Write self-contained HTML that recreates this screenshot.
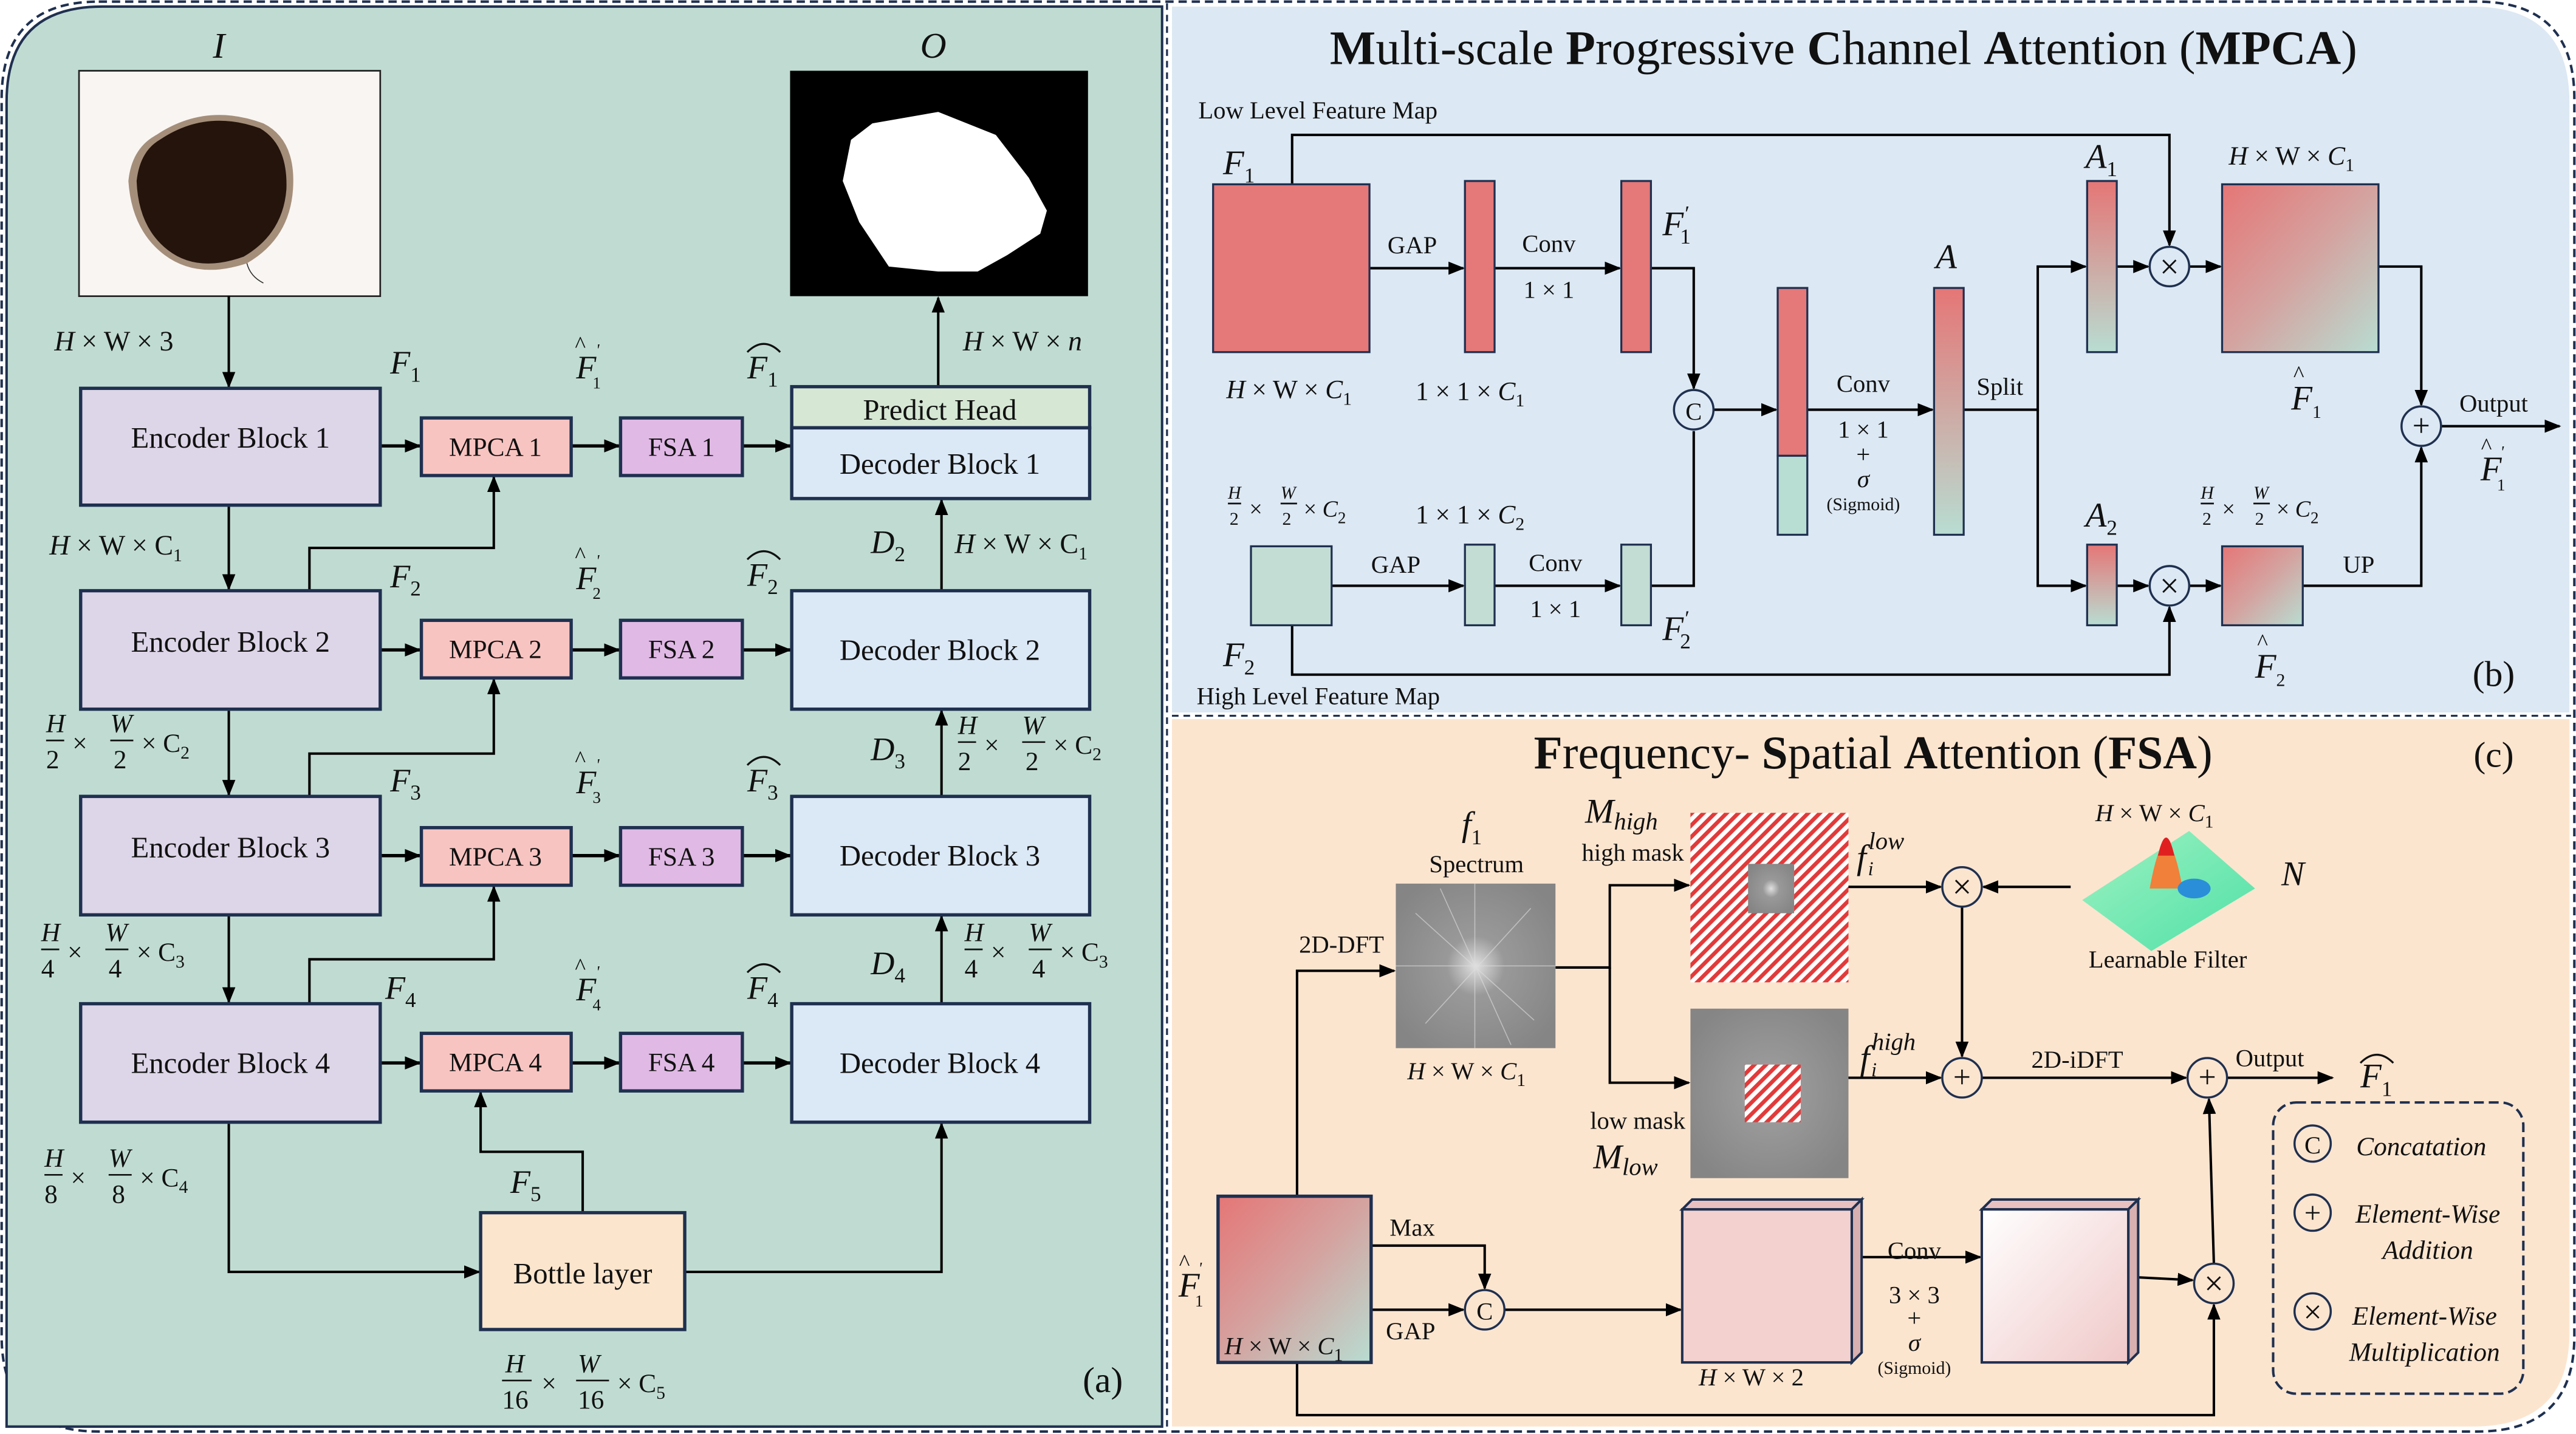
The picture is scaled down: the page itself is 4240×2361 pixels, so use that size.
<!DOCTYPE html>
<html><head><meta charset="utf-8"><style>
html,body{margin:0;padding:0;background:#fff;}
svg{display:block;}
text{font-family:"Liberation Serif",serif;fill:#111;}
.i{font-style:italic;}
</style></head><body>
<svg width="4240" height="2361" viewBox="0 0 1565 871.5" preserveAspectRatio="none" xmlns="http://www.w3.org/2000/svg">
<defs>
<marker id="ar" markerWidth="10" markerHeight="10" refX="9" refY="5" orient="auto" markerUnits="userSpaceOnUse"><path d="M0,1 L10,5 L0,9 z" fill="#000"/></marker>
<linearGradient id="rg" x1="0" y1="0" x2="1" y2="1"><stop offset="0" stop-color="#e57676"/><stop offset="0.5" stop-color="#d4a3a0"/><stop offset="1" stop-color="#b8ddd2"/></linearGradient>
<linearGradient id="vg" x1="0" y1="0" x2="0" y2="1"><stop offset="0" stop-color="#e57676"/><stop offset="1" stop-color="#b8ddd2"/></linearGradient>
<linearGradient id="pg" x1="0" y1="0" x2="1" y2="1"><stop offset="0" stop-color="#ffffff"/><stop offset="1" stop-color="#f0c8c8"/></linearGradient>
<radialGradient id="sp" cx="0.5" cy="0.5" r="0.6"><stop offset="0" stop-color="#e0e0e0"/><stop offset="0.3" stop-color="#999"/><stop offset="1" stop-color="#858585"/></radialGradient>
<pattern id="hat" width="5" height="5" patternUnits="userSpaceOnUse" patternTransform="rotate(45)"><rect width="5" height="5" fill="#fff"/><rect width="2.4" height="5" fill="#e23a3a"/></pattern>
<radialGradient id="les" cx="0.5" cy="0.5" r="0.5"><stop offset="0" stop-color="#1e100a"/><stop offset="0.8" stop-color="#2a170e"/><stop offset="0.93" stop-color="#6a4a2a"/><stop offset="1" stop-color="#f7f2ef" stop-opacity="0"/></radialGradient>
<linearGradient id="lf" x1="0" y1="0" x2="1" y2="1"><stop offset="0" stop-color="#9ef2c0"/><stop offset="1" stop-color="#4fe0a8"/></linearGradient>
</defs>
<rect width="1565" height="871.5" fill="#fff"/>
<path d="M60,1 L1505,1 Q1564,1 1564,60 L1564,812 Q1564,870 1505,870 L60,870 Q1,870 1,812 L1,60 Q1,1 60,1 Z" fill="none" stroke="#1f3050" stroke-width="1.5" stroke-dasharray="5,3"/>
<path d="M62,4 L706,4 L706,867 L4,867 L4,62 Q4,4 62,4 Z" fill="#c0dcd2" stroke="#1f3050" stroke-width="1.5"/>
<line x1="709" y1="2" x2="709" y2="869" stroke="#1f3050" stroke-width="1.2" stroke-dasharray="4,3"/>
<path d="M712,4 L1502,4 Q1561,4 1561,62 L1561,433 L712,433 Z" fill="#dce8f3"/>
<line x1="712" y1="435" x2="1562" y2="435" stroke="#1f3050" stroke-width="1.2" stroke-dasharray="4,3"/>
<path d="M712,437 L1561,437 L1561,810 Q1561,867 1502,867 L712,867 Z" fill="#fce5cf"/>

<!-- ===== Panel (a) ===== -->
<text x="133" y="35" font-size="22" class="i" text-anchor="middle">I</text>
<text x="567" y="35" font-size="22" class="i" text-anchor="middle">O</text>
<rect x="48" y="43" width="183" height="137" fill="#f9f5f2" stroke="#222" stroke-width="1"/>
<path d="M95,82 Q125,62 160,75 Q180,85 178,115 Q176,145 150,160 Q120,170 100,155 Q80,140 78,110 Q80,90 95,82 Z" fill="#6a4a2a" opacity="0.6" transform="translate(0,0)"/>
<path d="M97,85 Q125,66 158,78 Q175,88 174,115 Q172,142 148,156 Q120,166 102,152 Q84,138 83,110 Q85,92 97,85 Z" fill="#24140c"/>
<path d="M150,160 Q152,168 160,172" stroke="#333" stroke-width="0.6" fill="none"/>
<rect x="480" y="43" width="181" height="137" fill="#000"/>
<path d="M530,75 L570,68 L605,82 L625,108 L636,128 L632,142 L612,155 L594,165 L570,165 L540,162 L522,135 L512,110 L517,85 Z" fill="#fff"/>

<g stroke="#000" stroke-width="1.5" fill="none">
<line x1="139" y1="180" x2="139" y2="235" marker-end="url(#ar)"/>
<line x1="139" y1="308" x2="139" y2="358" marker-end="url(#ar)"/>
<line x1="139" y1="432" x2="139" y2="483" marker-end="url(#ar)"/>
<line x1="139" y1="557" x2="139" y2="609" marker-end="url(#ar)"/>
<polyline points="139,683 139,773 291,773" marker-end="url(#ar)"/>
<polyline points="416,773 572,773 572,683" marker-end="url(#ar)"/>
<polyline points="188,359 188,333 300,333 300,290" marker-end="url(#ar)"/>
<polyline points="188,484 188,458 300,458 300,413" marker-end="url(#ar)"/>
<polyline points="188,610 188,583 300,583 300,539" marker-end="url(#ar)"/>
<polyline points="354,737 354,700 292,700 292,664" marker-end="url(#ar)"/>
<line x1="572" y1="610" x2="572" y2="557" marker-end="url(#ar)"/>
<line x1="572" y1="484" x2="572" y2="432" marker-end="url(#ar)"/>
<line x1="572" y1="359" x2="572" y2="304" marker-end="url(#ar)"/>
<line x1="570" y1="235" x2="570" y2="181" marker-end="url(#ar)"/>
</g>
<g stroke="#000" stroke-width="2" fill="none">
<line x1="231" y1="271" x2="255" y2="271" marker-end="url(#ar)"/><line x1="347" y1="271" x2="376" y2="271" marker-end="url(#ar)"/><line x1="451" y1="271" x2="480" y2="271" marker-end="url(#ar)"/>
<line x1="231" y1="395" x2="255" y2="395" marker-end="url(#ar)"/><line x1="347" y1="395" x2="376" y2="395" marker-end="url(#ar)"/><line x1="451" y1="395" x2="480" y2="395" marker-end="url(#ar)"/>
<line x1="231" y1="520" x2="255" y2="520" marker-end="url(#ar)"/><line x1="347" y1="520" x2="376" y2="520" marker-end="url(#ar)"/><line x1="451" y1="520" x2="480" y2="520" marker-end="url(#ar)"/>
<line x1="231" y1="646" x2="255" y2="646" marker-end="url(#ar)"/><line x1="347" y1="646" x2="376" y2="646" marker-end="url(#ar)"/><line x1="451" y1="646" x2="480" y2="646" marker-end="url(#ar)"/>
</g>
<g stroke="#1f3050" stroke-width="2">
<rect x="49" y="236" width="182" height="71" fill="#ddd5e8"/>
<rect x="49" y="359" width="182" height="72" fill="#ddd5e8"/>
<rect x="49" y="484" width="182" height="72" fill="#ddd5e8"/>
<rect x="49" y="610" width="182" height="72" fill="#ddd5e8"/>
<rect x="256" y="254" width="91" height="35" fill="#f8c4c1"/>
<rect x="256" y="377" width="91" height="35" fill="#f8c4c1"/>
<rect x="256" y="503" width="91" height="35" fill="#f8c4c1"/>
<rect x="256" y="628" width="91" height="35" fill="#f8c4c1"/>
<rect x="377" y="254" width="74" height="35" fill="#e0b9e5"/>
<rect x="377" y="377" width="74" height="35" fill="#e0b9e5"/>
<rect x="377" y="503" width="74" height="35" fill="#e0b9e5"/>
<rect x="377" y="628" width="74" height="35" fill="#e0b9e5"/>
<rect x="481" y="235" width="181" height="25" fill="#d6e8d4"/>
<rect x="481" y="260" width="181" height="43" fill="#dbe8f6"/>
<rect x="481" y="359" width="181" height="72" fill="#dbe8f6"/>
<rect x="481" y="484" width="181" height="72" fill="#dbe8f6"/>
<rect x="481" y="610" width="181" height="72" fill="#dbe8f6"/>
<rect x="292" y="737" width="124" height="71" fill="#fbe5cc"/>
</g>
<g font-size="18" text-anchor="middle">
<text x="140" y="272">Encoder  Block 1</text><text x="140" y="396">Encoder  Block 2</text><text x="140" y="521">Encoder  Block 3</text><text x="140" y="652">Encoder  Block 4</text>
<text x="301" y="277" font-size="16">MPCA 1</text><text x="301" y="400" font-size="16">MPCA 2</text><text x="301" y="526" font-size="16">MPCA 3</text><text x="301" y="651" font-size="16">MPCA 4</text>
<text x="414" y="277" font-size="16">FSA 1</text><text x="414" y="400" font-size="16">FSA 2</text><text x="414" y="526" font-size="16">FSA 3</text><text x="414" y="651" font-size="16">FSA 4</text>
<text x="571" y="255">Predict Head</text>
<text x="571" y="288">Decoder  Block 1</text><text x="571" y="401">Decoder  Block 2</text><text x="571" y="526">Decoder  Block 3</text><text x="571" y="652">Decoder  Block 4</text>
<text x="354" y="780">Bottle layer</text>
</g>
<g font-size="17">
<text x="33" y="213"><tspan class="i">H</tspan> × W × 3</text>
<text x="585" y="213"><tspan class="i">H</tspan> × W × <tspan class="i">n</tspan></text>
<text x="30" y="337"><tspan class="i">H</tspan> × W × C<tspan font-size="11" dy="4">1</tspan></text>
<text x="580" y="336"><tspan class="i">H</tspan> × W × C<tspan font-size="11" dy="4">1</tspan></text>
<text x="529" y="336" class="i" font-size="20">D<tspan font-size="13" dy="5" font-style="normal">2</tspan></text>
<text x="529" y="462" class="i" font-size="20">D<tspan font-size="13" dy="5" font-style="normal">3</tspan></text>
<text x="529" y="592" class="i" font-size="20">D<tspan font-size="13" dy="5" font-style="normal">4</tspan></text>
<text x="237" y="227" class="i" font-size="20">F<tspan font-size="13" dy="5" font-style="normal">1</tspan></text>
<text x="237" y="357" class="i" font-size="20">F<tspan font-size="13" dy="5" font-style="normal">2</tspan></text>
<text x="237" y="481" class="i" font-size="20">F<tspan font-size="13" dy="5" font-style="normal">3</tspan></text>
<text x="234" y="607" class="i" font-size="20">F<tspan font-size="13" dy="5" font-style="normal">4</tspan></text>
<text x="310" y="725" class="i" font-size="20">F<tspan font-size="13" dy="5" font-style="normal">5</tspan></text>
</g>
<g font-size="20" class="i">
<text x="350" y="230">F</text><text x="349" y="214" font-size="14">^</text><text x="362" y="216" font-size="10">'</text><text x="360" y="236" font-size="10" font-style="normal">1</text>
<text x="350" y="358">F</text><text x="349" y="342" font-size="14">^</text><text x="362" y="344" font-size="10">'</text><text x="360" y="364" font-size="10" font-style="normal">2</text>
<text x="350" y="482">F</text><text x="349" y="466" font-size="14">^</text><text x="362" y="468" font-size="10">'</text><text x="360" y="488" font-size="10" font-style="normal">3</text>
<text x="350" y="608">F</text><text x="349" y="592" font-size="14">^</text><text x="362" y="594" font-size="10">'</text><text x="360" y="614" font-size="10" font-style="normal">4</text>
<text x="454" y="230">F<tspan font-size="13" dy="5" font-style="normal">1</tspan></text>
<text x="454" y="356">F<tspan font-size="13" dy="5" font-style="normal">2</tspan></text>
<text x="454" y="481">F<tspan font-size="13" dy="5" font-style="normal">3</tspan></text>
<text x="454" y="607">F<tspan font-size="13" dy="5" font-style="normal">4</tspan></text>
</g>
<g stroke="#111" stroke-width="1.2" fill="none">
<path d="M454,214 Q464,204 474,214"/><path d="M454,340 Q464,330 474,340"/><path d="M454,465 Q464,455 474,465"/><path d="M454,591 Q464,581 474,591"/>
</g>
<g font-size="16">
<g transform="translate(28,445)"><text x="0" y="0" class="i">H</text><line x1="0" y1="5" x2="11" y2="5" stroke="#111"/><text x="0" y="22">2</text><text x="16" y="12">×</text><text x="39" y="0" class="i">W</text><line x1="39" y1="5" x2="53" y2="5" stroke="#111"/><text x="41" y="22">2</text><text x="58" y="12">× C<tspan font-size="11" dy="4">2</tspan></text></g>
<g transform="translate(582,446)"><text x="0" y="0" class="i">H</text><line x1="0" y1="5" x2="11" y2="5" stroke="#111"/><text x="0" y="22">2</text><text x="16" y="12">×</text><text x="39" y="0" class="i">W</text><line x1="39" y1="5" x2="53" y2="5" stroke="#111"/><text x="41" y="22">2</text><text x="58" y="12">× C<tspan font-size="11" dy="4">2</tspan></text></g>
<g transform="translate(25,572)"><text x="0" y="0" class="i">H</text><line x1="0" y1="5" x2="11" y2="5" stroke="#111"/><text x="0" y="22">4</text><text x="16" y="12">×</text><text x="39" y="0" class="i">W</text><line x1="39" y1="5" x2="53" y2="5" stroke="#111"/><text x="41" y="22">4</text><text x="58" y="12">× C<tspan font-size="11" dy="4">3</tspan></text></g>
<g transform="translate(586,572)"><text x="0" y="0" class="i">H</text><line x1="0" y1="5" x2="11" y2="5" stroke="#111"/><text x="0" y="22">4</text><text x="16" y="12">×</text><text x="39" y="0" class="i">W</text><line x1="39" y1="5" x2="53" y2="5" stroke="#111"/><text x="41" y="22">4</text><text x="58" y="12">× C<tspan font-size="11" dy="4">3</tspan></text></g>
<g transform="translate(27,709)"><text x="0" y="0" class="i">H</text><line x1="0" y1="5" x2="11" y2="5" stroke="#111"/><text x="0" y="22">8</text><text x="16" y="12">×</text><text x="39" y="0" class="i">W</text><line x1="39" y1="5" x2="53" y2="5" stroke="#111"/><text x="41" y="22">8</text><text x="58" y="12">× C<tspan font-size="11" dy="4">4</tspan></text></g>
<g transform="translate(305,834)"><text x="2" y="0" class="i">H</text><line x1="0" y1="5" x2="18" y2="5" stroke="#111"/><text x="0" y="22">16</text><text x="24" y="12">×</text><text x="46" y="0" class="i">W</text><line x1="45" y1="5" x2="65" y2="5" stroke="#111"/><text x="46" y="22">16</text><text x="70" y="12">× C<tspan font-size="11" dy="4">5</tspan></text></g>
</g>
<text x="670" y="846" font-size="22" text-anchor="middle">(a)</text>

<!-- ===== Panel (b) MPCA ===== -->
<text x="1120" y="39" font-size="29.5" text-anchor="middle"><tspan font-weight="bold">M</tspan>ulti-scale <tspan font-weight="bold">P</tspan>rogressive <tspan font-weight="bold">C</tspan>hannel <tspan font-weight="bold">A</tspan>ttention (<tspan font-weight="bold">MPCA</tspan>)</text>
<text x="728" y="72" font-size="15">Low Level Feature Map</text>
<text x="727" y="428" font-size="15">High Level Feature Map</text>
<g stroke="#000" stroke-width="1.5" fill="none">
<line x1="832" y1="163" x2="889" y2="163" marker-end="url(#ar)"/>
<line x1="908" y1="163" x2="984" y2="163" marker-end="url(#ar)"/>
<polyline points="1003,163 1029,163 1029,236" marker-end="url(#ar)"/>
<polyline points="1003,356 1029,356 1029,262"/>
<line x1="1041" y1="249" x2="1079" y2="249" marker-end="url(#ar)"/>
<line x1="1098" y1="249" x2="1174" y2="249" marker-end="url(#ar)"/>
<polyline points="1193,249 1238,249 1238,162 1267,162" marker-end="url(#ar)"/>
<polyline points="1238,249 1238,356 1267,356" marker-end="url(#ar)"/>
<line x1="1286" y1="162" x2="1305" y2="162" marker-end="url(#ar)"/>
<line x1="1286" y1="356" x2="1305" y2="356" marker-end="url(#ar)"/>
<polyline points="785,112 785,82 1318,82 1318,149" marker-end="url(#ar)"/>
<polyline points="785,380 785,410 1318,410 1318,369" marker-end="url(#ar)"/>
<line x1="1330" y1="162" x2="1349" y2="162" marker-end="url(#ar)"/>
<line x1="1330" y1="356" x2="1349" y2="356" marker-end="url(#ar)"/>
<line x1="809" y1="356" x2="889" y2="356" marker-end="url(#ar)"/>
<line x1="908" y1="356" x2="984" y2="356" marker-end="url(#ar)"/>
<polyline points="1445,162 1471,162 1471,246" marker-end="url(#ar)"/>
<polyline points="1399,356 1471,356 1471,272" marker-end="url(#ar)"/>
<line x1="1483" y1="259" x2="1555" y2="259" marker-end="url(#ar)"/>
</g>
<g stroke="#1f3050" stroke-width="1.2">
<rect x="737" y="112" width="95" height="102" fill="#e57878"/>
<rect x="890" y="110" width="18" height="104" fill="#e57878"/>
<rect x="985" y="110" width="18" height="104" fill="#e57878"/>
<rect x="1080" y="175" width="18" height="102" fill="#e57878"/>
<rect x="1080" y="277" width="18" height="48" fill="#b8ddd2"/>
<rect x="1175" y="175" width="18" height="150" fill="url(#vg)"/>
<rect x="1268" y="110" width="18" height="104" fill="url(#vg)"/>
<rect x="1268" y="331" width="18" height="49" fill="url(#vg)"/>
<rect x="1350" y="112" width="95" height="102" fill="url(#rg)"/>
<rect x="760" y="332" width="49" height="48" fill="#c4ddd4"/>
<rect x="890" y="331" width="18" height="49" fill="#c4ddd4"/>
<rect x="985" y="331" width="18" height="49" fill="#c4ddd4"/>
<rect x="1350" y="332" width="49" height="48" fill="url(#rg)"/>
</g>
<g stroke="#1f3050" stroke-width="1.3" fill="#dce8f3">
<circle cx="1029" cy="249" r="12"/><circle cx="1318" cy="162" r="12"/><circle cx="1318" cy="356" r="12"/><circle cx="1471" cy="259" r="12"/>
</g>
<g font-size="15" text-anchor="middle">
<text x="1029" y="255">C</text><text x="1318" y="169" font-size="21">×</text><text x="1318" y="363" font-size="21">×</text><text x="1471" y="265" font-size="19">+</text>
<text x="858" y="154">GAP</text><text x="941" y="153">Conv</text><text x="941" y="181">1 × 1</text>
<text x="1132" y="238">Conv</text><text x="1132" y="266">1 × 1</text><text x="1132" y="281">+</text><text x="1132" y="296" class="i">σ</text><text x="1132" y="310" font-size="11">(Sigmoid)</text>
<text x="1215" y="240">Split</text>
<text x="848" y="348">GAP</text><text x="945" y="347">Conv</text><text x="945" y="375">1 × 1</text>
<text x="1433" y="348">UP</text><text x="1515" y="250">Output</text>
</g>
<g font-size="16">
<text x="745" y="242"><tspan class="i">H</tspan> × W × <tspan class="i">C</tspan><tspan font-size="11" dy="4">1</tspan></text>
<text x="860" y="243">1 × 1 × <tspan class="i">C</tspan><tspan font-size="11" dy="4">1</tspan></text>
<text x="860" y="318">1 × 1 × <tspan class="i">C</tspan><tspan font-size="11" dy="4">2</tspan></text>
<text x="1354" y="100"><tspan class="i">H</tspan> × W × <tspan class="i">C</tspan><tspan font-size="11" dy="4">1</tspan></text>
</g>
<g font-size="14">
<g transform="translate(746,303)"><text x="0" y="0" class="i" font-size="11">H</text><line x1="0" y1="3" x2="8" y2="3" stroke="#111"/><text x="1" y="16" font-size="11">2</text><text x="13" y="11">×</text><text x="32" y="0" class="i" font-size="11">W</text><line x1="32" y1="3" x2="42" y2="3" stroke="#111"/><text x="33" y="16" font-size="11">2</text><text x="46" y="11">× <tspan class="i">C</tspan><tspan font-size="10" dy="4">2</tspan></text></g>
<g transform="translate(1337,303)"><text x="0" y="0" class="i" font-size="11">H</text><line x1="0" y1="3" x2="8" y2="3" stroke="#111"/><text x="1" y="16" font-size="11">2</text><text x="13" y="11">×</text><text x="32" y="0" class="i" font-size="11">W</text><line x1="32" y1="3" x2="42" y2="3" stroke="#111"/><text x="33" y="16" font-size="11">2</text><text x="46" y="11">× <tspan class="i">C</tspan><tspan font-size="10" dy="4">2</tspan></text></g>
</g>
<g font-size="21" class="i">
<text x="743" y="106">F<tspan font-size="13" dy="5" font-style="normal">1</tspan></text>
<text x="743" y="405">F<tspan font-size="13" dy="5" font-style="normal">2</tspan></text>
<text x="1010" y="143">F<tspan font-size="13" dy="-9">′</tspan><tspan font-size="13" dx="-5" dy="14" font-style="normal">1</tspan></text>
<text x="1010" y="389">F<tspan font-size="13" dy="-9">′</tspan><tspan font-size="13" dx="-5" dy="14" font-style="normal">2</tspan></text>
<text x="1176" y="163">A</text>
<text x="1267" y="102">A<tspan font-size="13" dy="5" font-style="normal">1</tspan></text>
<text x="1267" y="320">A<tspan font-size="13" dy="5" font-style="normal">2</tspan></text>
<text x="1392" y="249">F<tspan font-size="11" dy="5" font-style="normal">1</tspan></text><text x="1393" y="232" font-size="14">^</text>
<text x="1370" y="412">F<tspan font-size="11" dy="5" font-style="normal">2</tspan></text><text x="1371" y="395" font-size="14">^</text>
<text x="1507" y="292">F</text><text x="1507" y="276" font-size="14">^</text><text x="1519" y="278" font-size="10">'</text><text x="1517" y="298" font-size="10" font-style="normal">1</text>
</g>
<text x="1515" y="417" font-size="22" text-anchor="middle">(b)</text>

<!-- ===== Panel (c) FSA ===== -->
<text x="1138" y="467" font-size="28.5" text-anchor="middle"><tspan font-weight="bold">F</tspan>requency- <tspan font-weight="bold">S</tspan>patial <tspan font-weight="bold">A</tspan>ttention (<tspan font-weight="bold">FSA</tspan>)</text>
<text x="1515" y="466" font-size="22" text-anchor="middle">(c)</text>
<g stroke="#000" stroke-width="1.5" fill="none">
<polyline points="788,727 788,590 847,590" marker-end="url(#ar)"/>
<polyline points="945,588 978,588 978,538 1026,538" marker-end="url(#ar)"/>
<polyline points="978,588 978,658 1026,658" marker-end="url(#ar)"/>
<line x1="1123" y1="539" x2="1179" y2="539" marker-end="url(#ar)"/>
<line x1="1258" y1="539" x2="1205" y2="539" marker-end="url(#ar)"/>
<line x1="1192" y1="551" x2="1192" y2="642" marker-end="url(#ar)"/>
<line x1="1123" y1="655" x2="1179" y2="655" marker-end="url(#ar)"/>
<line x1="1204" y1="655" x2="1328" y2="655" marker-end="url(#ar)"/>
<line x1="1353" y1="655" x2="1417" y2="655" marker-end="url(#ar)"/>
<polyline points="833,757 902,757 902,783" marker-end="url(#ar)"/>
<line x1="833" y1="796" x2="889" y2="796" marker-end="url(#ar)"/>
<line x1="914" y1="796" x2="1021" y2="796" marker-end="url(#ar)"/>
<line x1="1125" y1="764" x2="1203" y2="764" marker-end="url(#ar)"/>
<line x1="1293" y1="776" x2="1332" y2="778" marker-end="url(#ar)"/>
<line x1="1345" y1="768" x2="1342" y2="668" marker-end="url(#ar)"/>
<polyline points="788,828 788,860 1345,860 1345,793" marker-end="url(#ar)"/>
</g>
<rect x="848" y="537" width="97" height="100" fill="url(#sp)"/>
<g stroke="#ddd" stroke-width="0.6" opacity="0.6"><line x1="896" y1="537" x2="896" y2="637"/><line x1="848" y1="587" x2="945" y2="587"/><line x1="860" y1="555" x2="932" y2="620"/><line x1="930" y1="552" x2="866" y2="622"/><line x1="875" y1="540" x2="918" y2="635"/></g>
<rect x="1027" y="494" width="96" height="103" fill="url(#hat)"/>
<rect x="1062" y="525" width="28" height="30" fill="url(#sp)"/>
<rect x="1027" y="613" width="96" height="103" fill="url(#sp)"/>
<rect x="1060" y="647" width="34" height="35" fill="url(#hat)"/>
<polygon points="1265,547 1330,505 1370,540 1307,578" fill="url(#lf)"/>
<path d="M1306,540 Q1316,485 1326,540 Z" fill="#f0803a"/><path d="M1311,520 Q1316,498 1321,520 Z" fill="#e02020"/>
<ellipse cx="1333" cy="540" rx="10" ry="6" fill="#2a8fd8"/>
<rect x="740" y="727" width="93" height="101" fill="url(#rg)" stroke="#1f3050" stroke-width="2"/>
<g stroke="#1f3050" stroke-width="1.5">
<polygon points="1022,735 1028,729 1131,729 1125,735" fill="#e8c0c0"/>
<polygon points="1125,735 1131,729 1131,822 1125,828" fill="#d8b0b0"/>
<rect x="1022" y="735" width="103" height="93" fill="#f2d1cf"/>
<polygon points="1204,735 1210,729 1299,729 1293,735" fill="#e8c0c0"/>
<polygon points="1293,735 1299,729 1299,822 1293,828" fill="#d8b0b0"/>
<rect x="1204" y="735" width="89" height="93" fill="url(#pg)"/>
</g>
<g stroke="#1f3050" stroke-width="1.3" fill="#fce5cf">
<circle cx="1192" cy="539" r="12"/><circle cx="1192" cy="655" r="12"/><circle cx="1341" cy="655" r="12"/><circle cx="902" cy="796" r="12"/><circle cx="1345" cy="780" r="12"/>
</g>
<g font-size="15" text-anchor="middle">
<text x="1192" y="546" font-size="21">×</text><text x="1192" y="661" font-size="19">+</text><text x="1341" y="661" font-size="19">+</text><text x="902" y="802">C</text><text x="1345" y="787" font-size="21">×</text>
<text x="815" y="579">2D-DFT</text><text x="897" y="530">Spectrum</text><text x="992" y="523">high mask</text><text x="995" y="686">low mask</text>
<text x="1317" y="588">Learnable Filter</text><text x="1262" y="649">2D-iDFT</text><text x="1379" y="648">Output</text>
<text x="858" y="751">Max</text><text x="857" y="814">GAP</text>
<text x="1163" y="765">Conv</text><text x="1163" y="792">3 × 3</text><text x="1163" y="806">+</text><text x="1163" y="821" class="i">σ</text><text x="1163" y="835" font-size="11">(Sigmoid)</text>
</g>
<g font-size="15">
<text x="855" y="656"><tspan class="i">H</tspan> × W × <tspan class="i">C</tspan><tspan font-size="11" dy="4">1</tspan></text>
<text x="1273" y="499"><tspan class="i">H</tspan> × W × <tspan class="i">C</tspan><tspan font-size="11" dy="4">1</tspan></text>
<text x="744" y="823"><tspan class="i">H</tspan> × W × <tspan class="i">C</tspan><tspan font-size="11" dy="4">1</tspan></text>
<text x="1032" y="842"><tspan class="i">H</tspan> × W × 2</text>
</g>
<g font-size="21" class="i">
<text x="888" y="508">f<tspan font-size="13" dy="5" font-style="normal">1</tspan></text>
<text x="963" y="500">M<tspan font-size="15" dy="4">high</tspan></text>
<text x="968" y="710">M<tspan font-size="15" dy="4">low</tspan></text>
<text x="1128" y="528">f<tspan font-size="12" dx="1" dy="4">i</tspan><tspan font-size="15" dx="-3" dy="-16">low</tspan></text>
<text x="1130" y="650">f<tspan font-size="12" dx="1" dy="4">i</tspan><tspan font-size="15" dx="-3" dy="-16">high</tspan></text>
<text x="1386" y="538">N</text>
<text x="716" y="788">F</text><text x="716" y="772" font-size="14">^</text><text x="728" y="774" font-size="10">'</text><text x="726" y="794" font-size="10" font-style="normal">1</text>
<text x="1434" y="661">F<tspan font-size="13" dy="5" font-style="normal">1</tspan></text>
</g>
<path d="M1434,646 Q1444,636 1454,646" stroke="#111" stroke-width="1.2" fill="none"/>
<rect x="1381" y="670" width="152" height="177" rx="14" fill="none" stroke="#1f3050" stroke-width="1.5" stroke-dasharray="6,3"/>
<g stroke="#1f3050" stroke-width="1.3" fill="#fce5cf"><circle cx="1405" cy="695" r="11"/><circle cx="1405" cy="737" r="11"/><circle cx="1405" cy="797" r="11"/></g>
<g font-size="15" text-anchor="middle"><text x="1405" y="701">C</text><text x="1405" y="743" font-size="18">+</text><text x="1405" y="804" font-size="20">×</text></g>
<g font-size="16" class="i" text-anchor="middle">
<text x="1471" y="702">Concatation</text><text x="1475" y="743">Element-Wise</text><text x="1475" y="765">Addition</text>
<text x="1473" y="805">Element-Wise</text><text x="1473" y="827">Multiplication</text>
</g>
</svg>
</body></html>
